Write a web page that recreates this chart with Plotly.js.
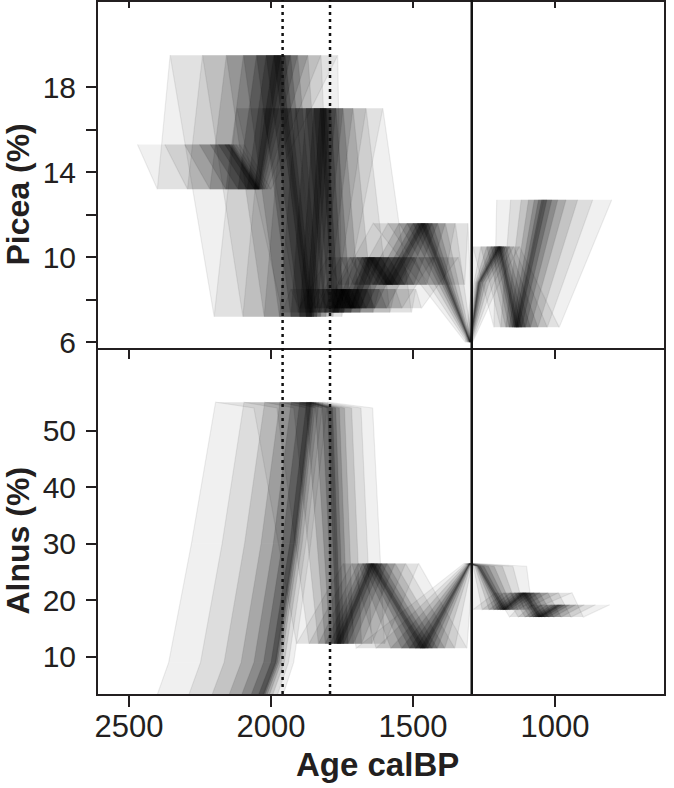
<!DOCTYPE html>
<html>
<head>
<meta charset="utf-8">
<script src="https://cdn.plot.ly/plotly-3.0.1.min.js"></script>
<style>html,body{margin:0;padding:0;background:#fff;}#chart{width:674px;height:788px;}</style>
</head>
<body>
<div id="chart"></div>
<script>
// Pollen samples, oldest to youngest
const piceaValues = [15.3, 13.2, 19.5, 7.2, 17.0, 7.4, 8.5, 7.6, 10.0, 8.7, 11.6, 6.0, 8.8, 10.5, 6.7, 12.7];
const alnusValues = [0.5, 9.0, 30.0, 55.0, 54.0, 12.3, 26.5, 11.5, 26.5, 26.0, 18.3, 21.3, 17.0, 19.2];

// Age-model ensemble: for each sample, ages (cal BP) of 15 ensemble members (oldest -> youngest)
const piceaAgeQuantiles = [
  [2470,2374,2304,2252,2214,2185,2163,2150,2147,2143,2138,2132,2122,2110,2095],
  [2400,2294,2215,2159,2116,2084,2059,2045,2043,2040,2036,2030,2022,2013,2000],
  [2355,2241,2157,2097,2051,2017,1990,1975,1965,1950,1931,1906,1870,1824,1765],
  [2200,2099,2024,1970,1930,1899,1876,1862,1856,1849,1838,1825,1806,1781,1750],
  [2120,2029,1961,1913,1876,1849,1827,1815,1805,1790,1771,1746,1711,1665,1606],
  [1960,1905,1864,1834,1812,1795,1782,1775,1762,1743,1718,1686,1640,1581,1505],
  [1930,1875,1835,1806,1784,1768,1755,1748,1735,1717,1694,1663,1619,1562,1490],
  [1900,1845,1804,1774,1752,1735,1722,1715,1703,1686,1664,1634,1593,1539,1470],
  [1800,1755,1722,1698,1680,1667,1656,1650,1635,1613,1585,1548,1495,1427,1340],
  [1760,1708,1669,1641,1620,1604,1592,1585,1572,1553,1529,1497,1452,1393,1318],
  [1640,1588,1549,1521,1500,1484,1472,1465,1457,1446,1432,1413,1386,1351,1306],
  [1315,1310,1306,1303,1301,1300,1299,1298,1298,1297,1296,1295,1294,1292,1290],
  [1292,1285,1280,1276,1273,1271,1269,1268,1264,1259,1253,1244,1232,1215,1195],
  [1289,1261,1240,1225,1214,1205,1199,1195,1192,1187,1180,1172,1160,1145,1125],
  [1215,1191,1173,1161,1151,1144,1138,1135,1128,1117,1104,1086,1060,1027,985],
  [1205,1156,1119,1093,1073,1058,1047,1040,1028,1011,990,961,920,867,800]
];
const alnusAgeQuantiles = [
  [2420,2309,2228,2168,2124,2091,2065,2050,2046,2041,2034,2025,2013,1996,1975],
  [2360,2248,2165,2105,2060,2026,2000,1985,1982,1977,1971,1964,1953,1938,1920],
  [2280,2172,2093,2035,1992,1960,1934,1920,1917,1913,1907,1900,1890,1877,1860],
  [2195,2095,2022,1969,1929,1899,1875,1862,1859,1855,1849,1842,1831,1817,1800],
  [2060,1979,1920,1876,1844,1820,1801,1790,1783,1772,1759,1741,1716,1683,1642],
  [1910,1866,1833,1809,1792,1778,1768,1762,1754,1743,1728,1709,1681,1645,1600],
  [1745,1715,1693,1677,1665,1656,1649,1645,1637,1625,1610,1591,1563,1526,1480],
  [1700,1630,1578,1540,1512,1491,1474,1465,1457,1446,1432,1414,1388,1353,1310],
  [1320,1314,1310,1306,1304,1302,1301,1300,1299,1299,1297,1296,1294,1291,1288],
  [1295,1288,1282,1278,1275,1273,1271,1270,1262,1250,1234,1214,1185,1148,1100],
  [1289,1256,1232,1215,1202,1192,1184,1180,1175,1168,1159,1147,1130,1108,1080],
  [1210,1180,1158,1142,1130,1121,1114,1110,1102,1090,1074,1054,1025,988,940],
  [1160,1129,1105,1089,1076,1067,1059,1055,1047,1036,1022,1004,978,943,900],
  [1120,1080,1050,1028,1012,1000,990,985,976,964,948,926,896,857,807]
];

// Event markers (cal BP)
const dottedEventAges = [1959, 1792];
const solidEventAges = [1293];

// Axis ticks
const ageTicks = [2500, 2000, 1500, 1000];
const piceaTicks = [6, 8, 10, 12, 14, 16, 18];
const piceaTickText = ['6', '', '10', '', '14', '', '18'];
const alnusTicks = [10, 20, 30, 40, 50];

const INK = '#231f20';
const FONT = 'Liberation Sans, Arial, sans-serif';
// shading of the nested envelope between ensemble members k and (n-1-k)
const bandAlpha = [0.06, 0.08, 0.11, 0.14, 0.17, 0.2, 0.24];

const traces = [];
function addEnsemble(values, ages, xa, ya) {
  const n = ages[0].length;
  // swept envelope between paired ensemble members, segment by segment
  for (let i = 0; i < values.length - 1; i++) {
    for (let L = 0; L < Math.floor(n / 2); L++) {
      const j = n - 1 - L;
      traces.push({
        type: 'scatter', mode: 'none', fill: 'toself',
        fillcolor: 'rgba(0,0,0,' + bandAlpha[L] + ')',
        x: [ages[i][L], ages[i + 1][L], ages[i + 1][j], ages[i][j]],
        y: [values[i], values[i + 1], values[i + 1], values[i]],
        xaxis: xa, yaxis: ya, hoverinfo: 'skip', showlegend: false
      });
    }
  }
  // individual ensemble members
  for (let k = 0; k < n; k++) {
    traces.push({
      type: 'scatter', mode: 'lines',
      x: ages.map(r => r[k]), y: values,
      xaxis: xa, yaxis: ya, line: {color: 'rgba(0,0,0,0.07)', width: 1.2},
      hoverinfo: 'skip', showlegend: false
    });
  }
}
addEnsemble(piceaValues, piceaAgeQuantiles, 'x2', 'y2');
addEnsemble(alnusValues, alnusAgeQuantiles, 'x', 'y');
// carrier for the inner top ticks of the upper panel
traces.push({type: 'scatter', mode: 'lines', x: [], y: [], xaxis: 'x3', yaxis: 'y2', showlegend: false, hoverinfo: 'skip'});

const ageRange = [2609, 616];
const axisCommon = {
  showgrid: false, zeroline: false, showline: true, linecolor: INK, linewidth: 2,
  tickcolor: INK, tickwidth: 2, tickfont: {family: FONT, size: 30, color: INK}
};

const shapes = [];
dottedEventAges.forEach(a => shapes.push({type: 'line', xref: 'x', yref: 'paper', x0: a, x1: a, y0: 0, y1: 1.01,
  line: {color: '#111', width: 2.5, dash: '3px,4px'}}));
solidEventAges.forEach(a => shapes.push({type: 'line', xref: 'x', yref: 'paper', x0: a, x1: a, y0: 0, y1: 1.01,
  line: {color: '#111', width: 2.5}}));

const layout = {
  width: 674, height: 788,
  margin: {l: 98, r: 10, t: 2, b: 94},
  paper_bgcolor: '#fff', plot_bgcolor: '#fff',
  showlegend: false,
  xaxis: Object.assign({}, axisCommon, {
    domain: [0, 1], anchor: 'y', range: ageRange, tickvals: ageTicks,
    ticks: 'outside', ticklen: 11, mirror: false, ticklabelstandoff: -7,
    tickfont: {family: FONT, size: 31, color: INK}
  }),
  xaxis2: Object.assign({}, axisCommon, {
    domain: [0, 1], anchor: 'y2', range: ageRange, tickvals: ageTicks,
    ticks: 'outside', ticklen: 9, mirror: true, showticklabels: false
  }),
  xaxis3: {
    overlaying: 'x2', side: 'top', anchor: 'y2', range: ageRange, tickvals: ageTicks,
    ticks: 'inside', ticklen: 6, tickwidth: 1.5, tickcolor: INK,
    showline: false, showgrid: false, zeroline: false, showticklabels: false
  },
  yaxis: Object.assign({}, axisCommon, {
    domain: [0, 0.5], anchor: 'x', range: [3.4, 64.6], tickvals: alnusTicks,
    ticks: 'outside', ticklen: 10, mirror: true, ticklabelstandoff: 4
  }),
  yaxis2: Object.assign({}, axisCommon, {
    domain: [0.5, 1], anchor: 'x2', range: [5.73, 22.0], tickvals: piceaTicks, ticktext: piceaTickText,
    ticks: 'outside', ticklen: 10, mirror: true, ticklabelstandoff: 4
  }),
  shapes: shapes,
  annotations: [
    {text: '<b>Picea (%)</b>', xref: 'paper', yref: 'paper', x: -0.1405, y: 0.7225,
     xanchor: 'center', yanchor: 'middle', textangle: -90, showarrow: false,
     font: {family: FONT, size: 32, color: INK}},
    {text: '<b>Alnus (%)</b>', xref: 'paper', yref: 'paper', x: -0.1405, y: 0.2225,
     xanchor: 'center', yanchor: 'middle', textangle: -90, showarrow: false,
     font: {family: FONT, size: 32, color: INK}},
    {text: '<b>Age calBP</b>', xref: 'paper', yref: 'paper', x: 0.4938, y: -0.1026,
     xanchor: 'center', yanchor: 'middle', showarrow: false,
     font: {family: FONT, size: 33, color: INK}}
  ]
};

Plotly.newPlot('chart', traces, layout, {staticPlot: true, displayModeBar: false});
</script>
</body>
</html>
